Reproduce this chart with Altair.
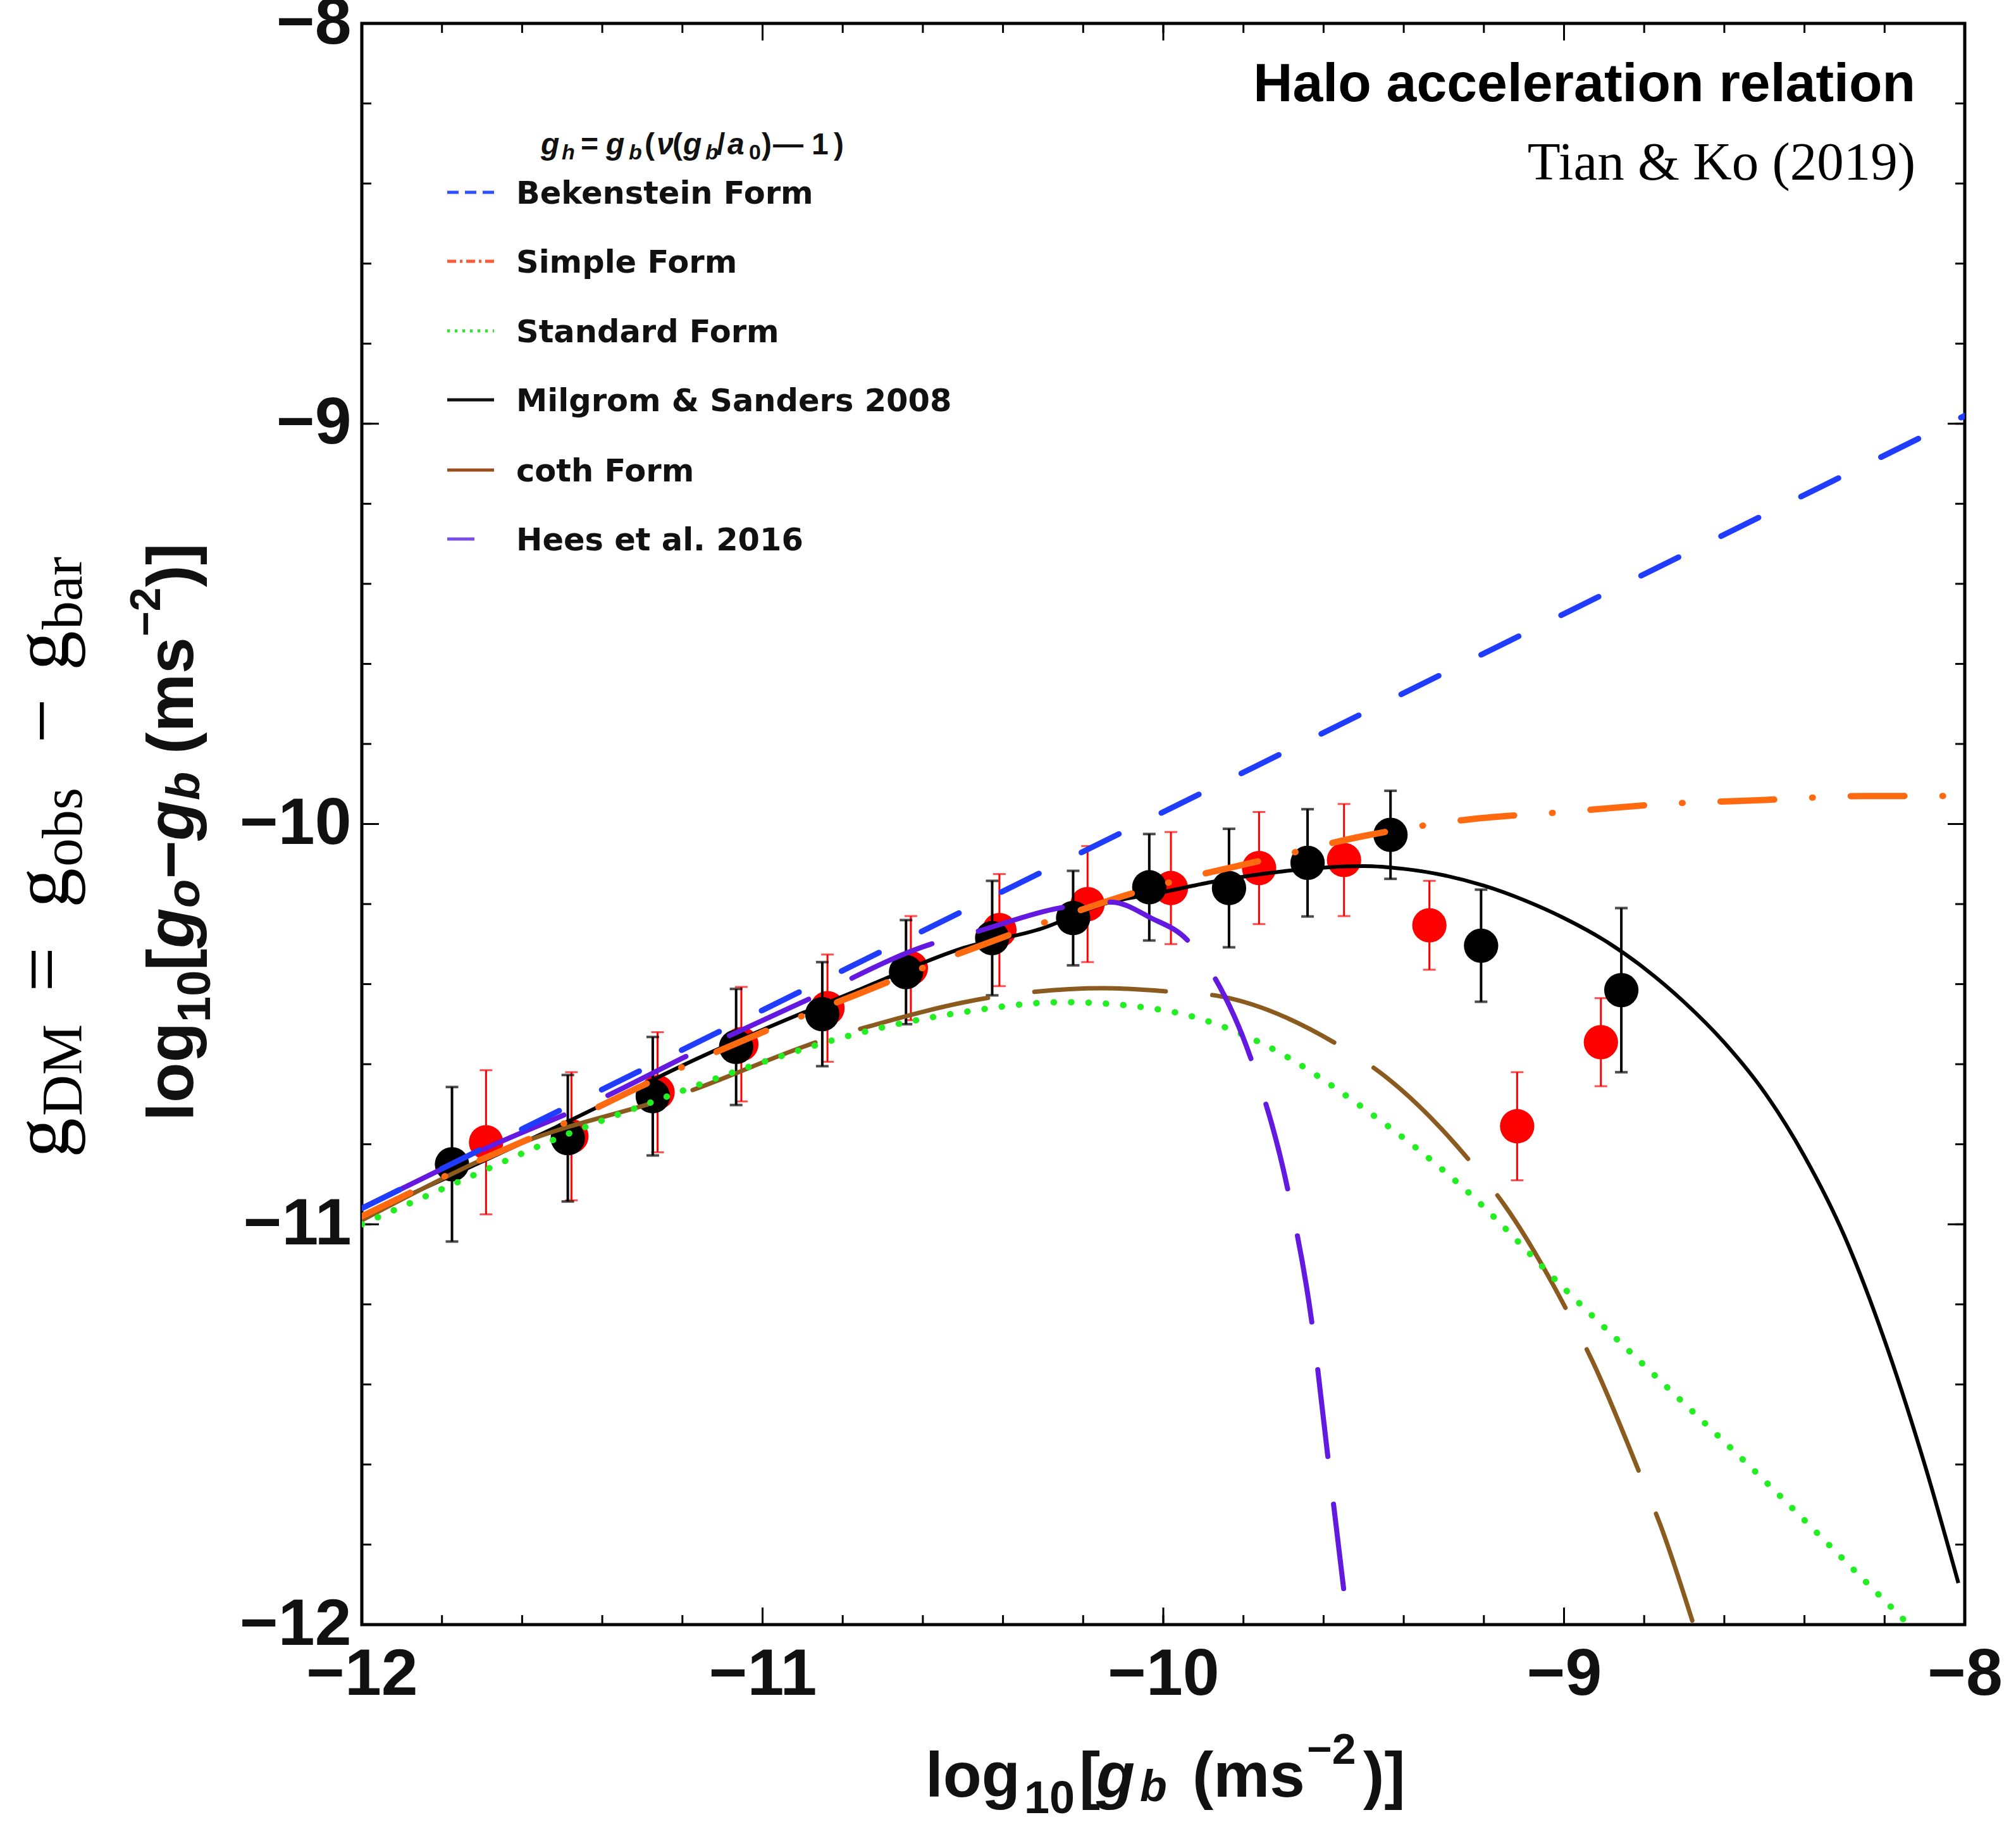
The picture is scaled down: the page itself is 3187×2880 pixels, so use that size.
import altair as alt
import pandas as pd

# ---------------- data ----------------
black_x = [-11.775, -11.486, -11.274, -11.066, -10.851, -10.642, -10.427, -10.225, -10.035, -9.836, -9.640, -9.433, -9.207, -8.857]
black_y = [-10.850, -10.785, -10.680, -10.557, -10.475, -10.370, -10.285, -10.235, -10.158, -10.160, -10.097, -10.027, -10.304, -10.415]
black_err = [0.193, 0.158, 0.148, 0.145, 0.130, 0.130, 0.143, 0.118, 0.133, 0.148, 0.134, 0.110, 0.140, 0.205]

red_x = [-11.690, -11.477, -11.262, -11.053, -10.838, -10.630, -10.409, -10.189, -9.981, -9.761, -9.549, -9.336, -9.117, -8.908]
red_y = [-10.795, -10.780, -10.670, -10.550, -10.460, -10.360, -10.265, -10.200, -10.160, -10.110, -10.090, -10.253, -10.755, -10.545]
red_err = [0.180, 0.160, 0.150, 0.143, 0.134, 0.130, 0.140, 0.145, 0.140, 0.140, 0.140, 0.111, 0.135, 0.110]

bek_x = [-12, -11, -10, -9, -8]
bek_y = [-10.96, -10.465, -9.97, -9.475, -8.98]

simple_x = [-12, -11.75, -11.5, -11.25, -11, -10.75, -10.5, -10.25, -10, -9.75, -9.5, -9.25, -9, -8.75, -8.5, -8.25, -8]
simple_y = [-10.98, -10.86, -10.75, -10.63, -10.52, -10.42, -10.32, -10.23, -10.15, -10.09, -10.03, -9.99, -9.97, -9.95, -9.94, -9.93, -9.93]

standard_x = [-12, -11.75, -11.5, -11.25, -11, -10.75, -10.5, -10.25, -10, -9.75, -9.5, -9.25, -9, -8.75, -8.5, -8.25, -8.15]
standard_y = [-11.00, -10.89, -10.78, -10.685, -10.595, -10.52, -10.47, -10.445, -10.465, -10.55, -10.71, -10.91, -11.16, -11.40, -11.64, -11.89, -11.99]

ms_x = [-12, -11.5, -11.15, -10.75, -10.5, -10.3, -10.15, -10.0, -9.88, -9.7, -9.5, -9.4, -9.3, -9.2, -9.1, -9.0,
        -8.9, -8.8, -8.7, -8.6, -8.5, -8.4, -8.3, -8.2, -8.1, -8.016]
ms_y = [-10.98, -10.75, -10.58, -10.41, -10.31, -10.26, -10.20, -10.17, -10.145, -10.118, -10.105, -10.112, -10.128, -10.154, -10.19, -10.235,
        -10.29, -10.36, -10.445, -10.546, -10.67, -10.83, -11.03, -11.29, -11.60, -11.896]

coth_x = [-12, -11.61, -11.19, -10.85, -10.75, -10.41, -10.15, -9.97, -9.86, -9.55, -9.46, -9.22, -9.15, -8.98, -8.93, -8.80, -8.76, -8.68]
coth_y = [-10.99, -10.80, -10.67, -10.54, -10.51, -10.43, -10.41, -10.42, -10.43, -10.56, -10.62, -10.86, -10.95, -11.24, -11.34, -11.65, -11.75, -11.99]

hees_x = [-12, -11.69, -11.39, -11.19, -10.89, -10.58, -10.47, -10.26, -10.13, -10.03, -9.94, -9.88, -9.78, -9.69, -9.63, -9.59, -9.55]
hees_y = [-10.96, -10.81, -10.68, -10.58, -10.44, -10.30, -10.27, -10.21, -10.195, -10.235, -10.29, -10.37, -10.59, -10.91, -11.24, -11.575, -11.91]

major_ticks = [-12, -11, -10, -9, -8]
minor_ticks = [-12.0, -11.8, -11.6, -11.4, -11.2, -11.0, -10.8, -10.6, -10.4, -10.2, -10.0,
               -9.8, -9.6, -9.4, -9.2, -9.0, -8.8, -8.6, -8.4, -8.2, -8.0]

legend_labels = ["Bekenstein Form", "Simple Form", "Standard Form",
                 "Milgrom & Sanders 2008", "coth Form", "Hees et al. 2016"]

# ---------------- layout ----------------
PADL, PADT, PADR, PADB = 572, 37, 81, 312
W = 3187 - PADL - PADR
H = 2880 - PADT - PADB

def X(fx):
    return fx - PADL

def Y(fy):
    return fy - PADT

XS = alt.Scale(domain=[-12, -8], nice=False, zero=False)
YS = alt.Scale(domain=[-12, -8], nice=False, zero=False)
common_ax = dict(title="", values=major_ticks, format="d", labelFlush=False, labelOverlap=False,
                 labelFontSize=104, labelFont="Liberation Sans", labelFontWeight="bold",
                 labelColor="#111111", ticks=False, domain=False, grid=False)
XAX = alt.Axis(labelPadding=28, **common_ax)
YAX = alt.Axis(labelPadding=17, **common_ax)

def xenc(f):
    return alt.X(f"{f}:Q", scale=XS, axis=XAX)

def yenc(f):
    return alt.Y(f"{f}:Q", scale=YS, axis=YAX)

one = pd.DataFrame({"a": [0]})

def seg(text, fx, fy, size, font="Liberation Sans", weight="bold", style="normal",
        angle=0, align="left", color="#111111"):
    return alt.Chart(one).mark_text(text=text, fontSize=size, font=font, fontWeight=weight,
                                    fontStyle=style, angle=angle, align=align,
                                    baseline="alphabetic", color=color).encode(
        x=alt.value(X(fx)), y=alt.value(Y(fy)))

layers = []

# ---- inward frame ticks ----
tmin = pd.DataFrame({"v": minor_ticks})
tmaj = pd.DataFrame({"v": major_ticks})
for df, ln in ((tmin, 15), (tmaj, 27)):
    layers.append(alt.Chart(df).mark_rule(color="black", strokeWidth=3).encode(
        x=xenc("v"), y=alt.value(H), y2=alt.value(H - ln)))
    layers.append(alt.Chart(df).mark_rule(color="black", strokeWidth=3).encode(
        x=xenc("v"), y=alt.value(0), y2=alt.value(ln)))
    layers.append(alt.Chart(df).mark_rule(color="black", strokeWidth=3).encode(
        y=yenc("v"), x=alt.value(0), x2=alt.value(ln)))
    layers.append(alt.Chart(df).mark_rule(color="black", strokeWidth=3).encode(
        y=yenc("v"), x=alt.value(W), x2=alt.value(W - ln)))

# ---- data points with error bars ----
def points(xs, ys, errs, color, bar_w, cap_w):
    lo = [y - e for y, e in zip(ys, errs)]
    hi = [y + e for y, e in zip(ys, errs)]
    df = pd.DataFrame({"x": xs, "y": ys, "lo": lo, "hi": hi})
    caps = pd.DataFrame({"x": xs + xs, "y": lo + hi})
    return [
        alt.Chart(df).mark_rule(color=color, strokeWidth=bar_w).encode(
            x=xenc("x"), y=yenc("lo"), y2="hi:Q"),
        alt.Chart(caps).mark_tick(color=color, orient="horizontal", size=20, thickness=cap_w).encode(
            x=xenc("x"), y=yenc("y")),
        alt.Chart(df).mark_point(filled=True, shape="circle", size=2950, opacity=1, color=color).encode(
            x=xenc("x"), y=yenc("y")),
    ]

layers += points(red_x, red_y, red_err, "#ff0000", 3, 3)
layers += points(black_x, black_y, black_err, "#000000", 4, 4)

# ---- model curves ----
def curve(xs, ys, color, width, dash=None, cap="butt"):
    kw = dict(color=color, strokeWidth=width, strokeCap=cap, interpolate="monotone", clip=True)
    if dash:
        kw["strokeDash"] = dash
    return alt.Chart(pd.DataFrame({"x": xs, "y": ys})).mark_line(**kw).encode(
        x=xenc("x"), y=yenc("y"))

layers.append(curve(ms_x, ms_y, "#000000", 6))
layers.append(curve(coth_x, coth_y, "#8b5a1e", 7, [208, 74], "round"))
layers.append(curve(standard_x, standard_y, "#22ee22", 10, [0.5, 27], "round"))
layers.append(curve(simple_x, simple_y, "#ff6a10", 10, [85, 60, 1, 60], "round"))
layers.append(curve(hees_x, hees_y, "#6419e0", 8, [138, 76], "round"))
layers.append(curve(bek_x, bek_y, "#1f3cff", 9, [66, 75], "round"))

# ---- legend ----
leg_y = [304, 413, 523, 632, 743, 852]
leg_style = [
    ("#2e4fff", [18, 10], 781),
    ("#ff5a36", [14, 6, 4, 6], 781),
    ("#22ee22", [4, 8], 781),
    ("#111111", None, 781),
    ("#9a4f1c", None, 781),
    ("#7a4fe8", None, 750),
]
for (col, dash, x2), ly, lab in zip(leg_style, leg_y, legend_labels):
    kw = dict(color=col, strokeWidth=5)
    if dash:
        kw["strokeDash"] = dash
    layers.append(alt.Chart(one).mark_rule(**kw).encode(
        x=alt.value(X(707)), x2=alt.value(X(x2)), y=alt.value(Y(ly))))
    layers.append(seg(lab, 816, ly + 18, 49.5, font="DejaVu Sans"))

# legend header  g_h = g_b(nu(g_b/a_0) - 1)
hdr = [
    ("g", 855, 244, 48, "italic"), ("h", 888, 252, 34, "italic"), ("=", 918, 244, 48, "normal"),
    ("g", 958, 244, 48, "italic"), ("b", 994, 252, 34, "italic"), ("(", 1019, 244, 48, "normal"),
    ("ν", 1038, 244, 48, "italic"), ("(", 1063, 244, 48, "normal"), ("g", 1080, 244, 48, "italic"),
    ("b", 1115, 252, 34, "italic"), ("/", 1133, 244, 48, "normal"), ("a", 1150, 244, 48, "italic"),
    ("0", 1184, 252, 34, "normal"), (")", 1204, 244, 48, "normal"), ("—", 1222, 244, 48, "normal"),
    ("1", 1283, 244, 48, "normal"), (")", 1318, 244, 48, "normal"),
]
for t, fx, fy, s, st in hdr:
    layers.append(seg(t, fx, fy, s, font="Liberation Sans", style=st))

# ---- title and citation ----
layers.append(seg("Halo acceleration relation", 3028, 160, 86, align="right", color="#000000"))
layers.append(seg("Tian & Ko (2019)", 3028, 284, 85, font="Liberation Serif", weight="normal",
                  align="right", color="#000000"))

# ---- x axis title: log10[g_b (ms^-2)] ----
xt = [
    ("log", 1463, 2840, 100, "normal"), ("10", 1619, 2866, 72, "normal"), ("[", 1706, 2840, 100, "normal"),
    ("g", 1733, 2840, 100, "italic"), ("b", 1802, 2847, 70, "italic"), ("(ms", 1885, 2840, 100, "normal"),
    ("−2", 2066, 2788, 68, "normal"), (")]", 2155, 2840, 100, "normal"),
]
for t, fx, fy, s, st in xt:
    layers.append(seg(t, fx, fy, s, style=st))

# ---- y axis title (rotated): log10[g_o - g_b (ms^-2)] ----
yb, ys0 = 305, 1772
yt = [
    ("log", 0, 104, "normal", 0), ("10", 156, 74, "normal", 27), ("[", 238, 104, "normal", 0),
    ("g", 273, 104, "italic", 0), ("o", 337, 74, "italic", 10), ("−", 383, 104, "normal", 0),
    ("g", 443, 104, "italic", 0), ("b", 507, 74, "italic", 10), ("(ms", 580, 104, "normal", 0),
    ("−2", 766, 68, "normal", -52), (")]", 844, 104, "normal", 0),
]
for t, off, s, st, sh in yt:
    layers.append(seg(t, yb + sh, ys0 - off, s, style=st, angle=270))

# ---- outer serif label (rotated): g_DM = g_obs - g_bar ----
sb, ss0 = 108, 1830
st_ = [
    ("g", 0, 126, 0), ("DM", 66, 90, 21), ("=", 262, 126, 0), ("g", 395, 126, 0),
    ("obs", 460, 90, 21), ("−", 655, 126, 0), ("g", 770, 126, 0), ("bar", 835, 90, 21),
]
for t, off, s, sh in st_:
    layers.append(seg(t, sb + sh, ss0 - off, s, font="Liberation Serif", weight="normal",
                      angle=270, color="#000000"))

chart = alt.layer(*layers).properties(
    width=W, height=H,
    padding={"left": PADL, "top": PADT, "right": PADR, "bottom": PADB},
    autosize=alt.AutoSizeParams(type="none"),
    background="white",
).configure_view(stroke="black", strokeWidth=5)

chart.save("out.html", embed_options={"renderer": "svg", "actions": False})
